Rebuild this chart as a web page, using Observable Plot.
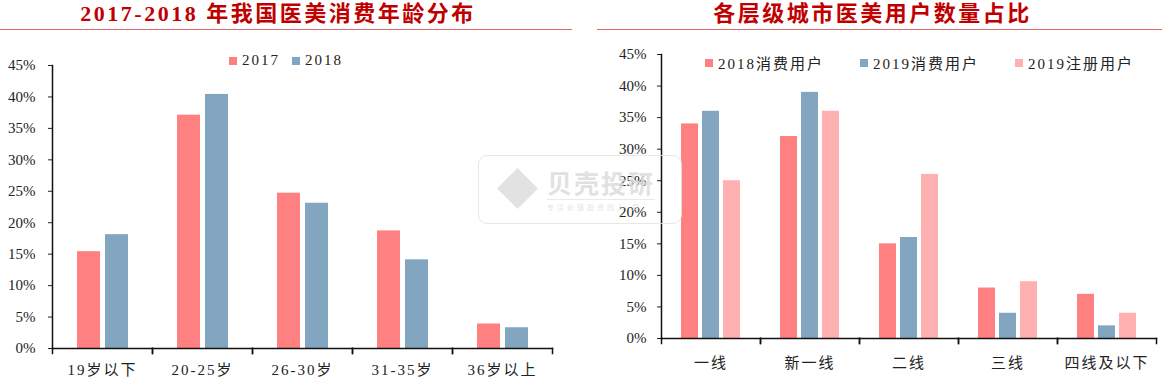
<!DOCTYPE html>
<html><head><meta charset="utf-8">
<script src="https://cdn.jsdelivr.net/npm/d3@7"></script>
<script src="https://cdn.jsdelivr.net/npm/@observablehq/plot@0.6"></script>
<style>
body{margin:0;background:#fff;width:1162px;height:381px;overflow:hidden;position:relative;font-family:"Liberation Serif","Noto Sans CJK SC",serif;}
.title{position:absolute;top:0;height:29px;border-bottom:1.5px solid #E06666;text-align:center;color:#C00000;font-weight:bold;font-size:22px;letter-spacing:2.5px;line-height:28px;white-space:nowrap;}
.chart{position:absolute;top:40px;}
.legend{position:absolute;top:52px;display:flex;align-items:center;font-size:15px;letter-spacing:2px;color:#222;white-space:nowrap;}
.legend .item{display:flex;align-items:center;}
.legend .sw{width:8px;height:8px;margin-right:5px;display:inline-block;}
.chart svg text{letter-spacing:2px;}
.chart svg g[aria-label="y-axis tick label"] text{letter-spacing:0;}
.wm{position:absolute;left:478px;top:155px;width:204px;height:69px;border:1.5px solid #e4e4e4;border-radius:9px;box-sizing:border-box;opacity:0.85;pointer-events:none;}
.wm .logo{position:absolute;left:24px;top:18px;width:29px;height:29px;background:#dedede;transform:rotate(45deg);}
.wm .txt{position:absolute;left:68px;top:10px;font-family:"Noto Sans CJK SC",sans-serif;font-weight:bold;font-size:25px;letter-spacing:2px;color:#dcdcdc;line-height:32px;}
.wm .ln{position:absolute;left:68px;top:43px;width:108px;border-top:1px solid #e6e6e6;}
.wm .sub{position:absolute;left:68px;top:47px;font-family:"Noto Sans CJK SC",sans-serif;font-size:7px;color:#e2e2e2;letter-spacing:3px;line-height:9px;}
</style>
</head><body>
<div class="title" style="left:0;width:572px;text-indent:-16px;">2017-2018 年我国医美消费年龄分布</div>
<div class="title" style="left:597px;width:565px;text-indent:-14px;">各层级城市医美用户数量占比</div>
<div id="left" class="chart" style="left:0;"></div>
<div id="right" class="chart" style="left:580px;"></div>
<div id="legL" class="legend" style="left:229px;"></div>
<div id="legR" class="legend" style="left:705px;"></div>
<div class="wm"><div class="logo"></div><div class="txt">贝壳投研</div><div class="ln"></div><div class="sub">专注价值投资的人 洞</div></div>
<script>
// ---- data ----
const ageGroups = ["19岁以下", "20-25岁", "26-30岁", "31-35岁", "36岁以上"];
const ageSeries = ["2017", "2018"];
const age2017 = [15.4, 37.1, 24.7, 18.7, 3.9];
const age2018 = [18.1, 40.4, 23.1, 14.1, 3.3];

const cityTiers = ["一线", "新一线", "二线", "三线", "四线及以下"];
const citySeries = ["2018消费用户", "2019消费用户", "2019注册用户"];
const city2018Consume = [34, 32, 15, 8, 7];
const city2019Consume = [36, 39, 16, 4, 2];
const city2019Register = [25, 36, 26, 9, 4];

const yTicks = [0, 5, 10, 15, 20, 25, 30, 35, 40, 45];

const ageColors = ["#FF8080", "#82A6BF"];
const cityColors = ["#FF8080", "#82A6BF", "#FFB1B1"];

// ---- tables ----
const ageRows = ageGroups.flatMap((g, i) => [
  {group: g, series: ageSeries[0], value: age2017[i]},
  {group: g, series: ageSeries[1], value: age2018[i]}
]);
const cityRows = cityTiers.flatMap((g, i) => [
  {group: g, series: citySeries[0], value: city2018Consume[i]},
  {group: g, series: citySeries[1], value: city2019Consume[i]},
  {group: g, series: citySeries[2], value: city2019Register[i]}
]);

function chart({rows, groups, series, colors, width, height, mL, mR, mT, mB, pIn, pOut, yPad, fxPad}) {
  const inner = height - mT - mB;
  return Plot.plot({
    width, height, marginLeft: mL, marginRight: mR, marginTop: mT, marginBottom: mB,
    style: {fontFamily: '"Liberation Serif","Noto Sans CJK SC",serif', fontSize: "15px", color: "#222", background: "transparent"},
    fx: {domain: groups, padding: 0, label: null, axis: "bottom", tickSize: 0, tickPadding: fxPad},
    x: {domain: series, axis: null, paddingInner: pIn, paddingOuter: pOut},
    y: {domain: [0, 45], ticks: yTicks, tickFormat: d => d + "%", label: null, tickSize: 4, tickPadding: yPad},
    color: {domain: series, range: colors},
    marks: [
      Plot.barY(rows, {fx: "group", x: "series", y: "value", fill: "series"}),
      Plot.frame({anchor: "bottom", stroke: "#111", strokeWidth: 1.5}),
      Plot.frame({anchor: "left", stroke: "#111", strokeWidth: 1.5, facetAnchor: "left"}),
      Plot.frame({anchor: "left", stroke: "#111", strokeWidth: 1.5, insetTop: inner, insetBottom: -5}),
      Plot.frame({anchor: "right", stroke: "#111", strokeWidth: 1.5, insetTop: inner, insetBottom: -5})
    ]
  });
}

document.getElementById("left").append(chart({
  rows: ageRows, groups: ageGroups, series: ageSeries, colors: ageColors,
  width: 580, height: 341, mL: 50, mR: 27, mT: 25, mB: 33, pIn: 0.18, pOut: 0.86, yPad: 13, fxPad: 16
}));
document.getElementById("right").append(chart({
  rows: cityRows, groups: cityTiers, series: citySeries, colors: cityColors,
  width: 582, height: 341, mL: 80, mR: 5, mT: 14, mB: 43, pIn: 0.2, pOut: 0.86, yPad: 11, fxPad: 19
}));

function legend(el, names, colors, gap) {
  names.forEach((n, i) => {
    const it = document.createElement("div");
    it.className = "item";
    if (i > 0) it.style.marginLeft = gap + "px";
    it.innerHTML = `<span class="sw" style="background:${colors[i]}"></span><span>${n}</span>`;
    el.append(it);
  });
}
legend(document.getElementById("legL"), ageSeries, ageColors, 12);
legend(document.getElementById("legR"), citySeries, cityColors, 36);
</script>
</body></html>
